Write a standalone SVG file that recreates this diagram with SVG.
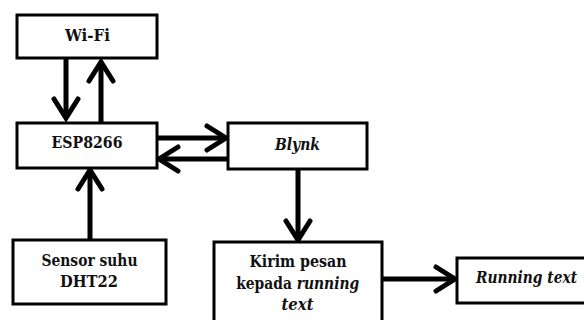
<svg xmlns="http://www.w3.org/2000/svg" width="584" height="320" viewBox="0 0 584 320">
<defs>
<style>
.box{fill:#fff;stroke:#000;stroke-width:3}
.t{font-family:"DejaVu Serif",serif;font-stretch:condensed;font-weight:bold;font-size:16.5px;text-anchor:middle;fill:#111}
.i{font-style:italic}
.c{stroke:#000;stroke-width:5;fill:none}
</style>
<marker id="ah" markerUnits="userSpaceOnUse" viewBox="-4 -16 28 32" markerWidth="28" markerHeight="32" refX="19" refY="0" orient="auto">
<path d="M0,-12 L19,0 L0,12" fill="none" stroke="#000" stroke-width="5" stroke-linecap="round" stroke-linejoin="miter"/>
</marker>
</defs>
<rect width="584" height="320" fill="#fff"/>
<g id="connectors">
<line class="c" x1="66" y1="58" x2="66" y2="118" marker-end="url(#ah)"/>
<line class="c" x1="101" y1="123" x2="101" y2="62" marker-end="url(#ah)"/>
<line class="c" x1="157" y1="138" x2="226" y2="138" marker-end="url(#ah)"/>
<line class="c" x1="228" y1="159" x2="159" y2="159" marker-end="url(#ah)"/>
<line class="c" x1="90" y1="240" x2="90" y2="170" marker-end="url(#ah)"/>
<line class="c" x1="298" y1="170" x2="298" y2="240" marker-end="url(#ah)"/>
<line class="c" x1="382" y1="279" x2="455" y2="279" marker-end="url(#ah)"/>
</g>
<g id="wifi">
<rect class="box" x="17" y="15" width="140" height="43"/>
<text class="t" x="87.5" y="41" textLength="45" lengthAdjust="spacingAndGlyphs">Wi-Fi</text>
</g>
<g id="esp8266">
<rect class="box" x="17" y="123" width="140" height="45"/>
<text class="t" x="87" y="148" textLength="71" lengthAdjust="spacingAndGlyphs">ESP8266</text>
</g>
<g id="blynk">
<rect class="box" x="228" y="123" width="139" height="46"/>
<text class="t i" x="297.5" y="150" textLength="45" lengthAdjust="spacingAndGlyphs">Blynk</text>
</g>
<g id="sensor">
<rect class="box" x="13" y="240" width="153" height="64"/>
<text class="t" x="89.5" y="266" textLength="96" lengthAdjust="spacingAndGlyphs">Sensor suhu</text>
<text class="t" x="89" y="287" textLength="58" lengthAdjust="spacingAndGlyphs">DHT22</text>
</g>
<g id="kirim">
<rect class="box" x="214" y="242" width="168" height="82"/>
<text class="t" x="298" y="267" textLength="97" lengthAdjust="spacingAndGlyphs">Kirim pesan</text>
<text class="t" x="297.7" y="289" textLength="123" lengthAdjust="spacingAndGlyphs">kepada <tspan class="i">running</tspan></text>
<text class="t i" x="297.5" y="310" textLength="32" lengthAdjust="spacingAndGlyphs">text</text>
</g>
<g id="running">
<rect class="box" x="457" y="258" width="140" height="45"/>
<text class="t i" x="526.5" y="283" textLength="101" lengthAdjust="spacingAndGlyphs">Running text</text>
</g>
</svg>
